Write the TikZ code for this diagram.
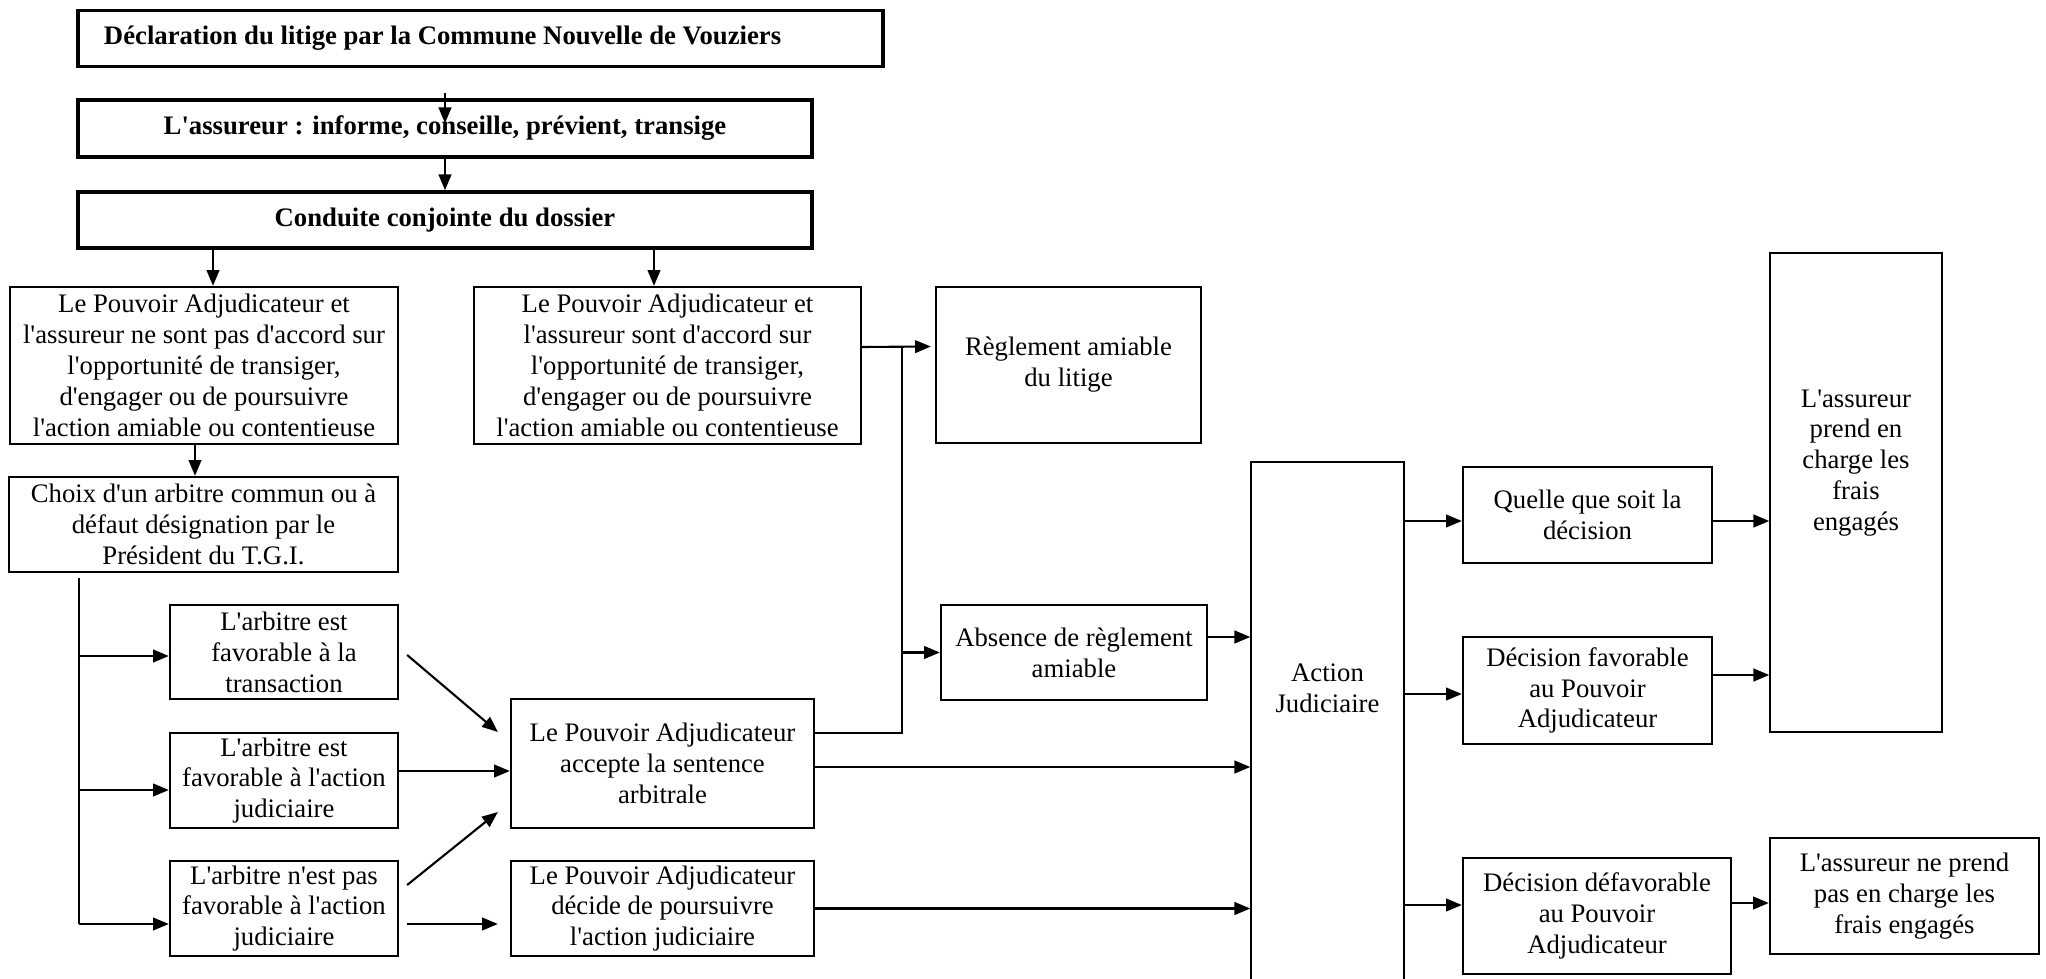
\documentclass[tikz,border=0pt]{standalone}
\usepackage{fontspec}
\setmainfont[Ligatures=TeXOff]{Liberation Serif}
\usetikzlibrary{arrows.meta}

\begin{document}
\begin{tikzpicture}[
    box/.style={draw, line width=0.65pt, align=center, inner sep=1pt, font=\fontsize{7.6}{8.8}\selectfont},
    topbox/.style={box, line width=1pt, font=\fontsize{7.6}{8.8}\selectfont\bfseries},
    thinbox/.style={box, line width=0.4pt},
    txt/.style={align=center, inner sep=0pt, font=\fontsize{7.6}{8.8}\selectfont},
    arr/.style={-{Triangle[length=4.5pt,width=3.6pt]}, line width=0.6pt},
    link/.style={line width=0.45pt}
  ]
    \useasboundingbox (0,0) rectangle (20.46,-9.79);
    \clip (0,0) rectangle (20.46,-9.79);

    \node[topbox, minimum width=8.05cm, minimum height=0.56cm, text width=7.53cm, align=flush left, inner xsep=0.26cm] (decl) at (4.805,-0.385) {D\'eclaration du litige par la Commune Nouvelle de Vouziers};
    \node[topbox, minimum width=7.34cm, minimum height=0.57cm] (assur) at (4.45,-1.285) {L'assureur : informe, conseille, pr\'evient, transige};
    \node[topbox, minimum width=7.34cm, minimum height=0.56cm] (conduite) at (4.45,-2.20) {Conduite conjointe du dossier};

    \node[box, minimum width=3.88cm, minimum height=1.57cm] (pasaccord) at (2.04,-3.655) {Le Pouvoir Adjudicateur et\\l'assureur ne sont pas d'accord sur\\l'opportunit\'e de transiger,\\d'engager ou de poursuivre\\l'action amiable ou contentieuse};
    \node[box, minimum width=3.87cm, minimum height=1.57cm] (accord) at (6.675,-3.655) {Le Pouvoir Adjudicateur et\\l'assureur sont d'accord sur\\l'opportunit\'e de transiger,\\d'engager ou de poursuivre\\l'action amiable ou contentieuse};
    \node[box, minimum width=2.65cm, minimum height=1.56cm] (reglement) at (10.685,-3.65) {R\`eglement amiable\\du litige};
    \node[box, minimum width=3.89cm, minimum height=0.95cm] (choix) at (2.035,-5.245) {Choix d'un arbitre commun ou \`a\\d\'efaut d\'esignation par le\\Pr\'esident du T.G.I.};

    \node[box, minimum width=2.28cm, minimum height=0.94cm] (arb1) at (2.84,-6.52) {L'arbitre est\\favorable \`a la\\transaction};
    \node[box, minimum width=2.28cm, minimum height=0.95cm] (arb2) at (2.84,-7.805) {L'arbitre est\\favorable \`a l'action\\judiciaire};
    \node[box, minimum width=2.28cm, minimum height=0.95cm] (arb3) at (2.84,-9.085) {L'arbitre n'est pas\\favorable \`a l'action\\judiciaire};
    \node[box, minimum width=3.03cm, minimum height=1.29cm] (accepte) at (6.625,-7.635) {Le Pouvoir Adjudicateur\\accepte la sentence\\arbitrale};
    \node[box, minimum width=3.03cm, minimum height=0.95cm] (decide) at (6.625,-9.085) {Le Pouvoir Adjudicateur\\d\'ecide de poursuivre\\l'action judiciaire};
    \node[box, minimum width=2.66cm, minimum height=0.95cm] (absence) at (10.74,-6.525) {Absence de r\`eglement\\amiable};

    \node[thinbox, minimum width=1.53cm, minimum height=5.38cm] (action) at (13.275,-7.31) {};
    \node[txt] (actiontxt) at (13.275,-6.88) {Action\\Judiciaire};
    \node[box, minimum width=2.49cm, minimum height=0.96cm] (quelle) at (15.875,-5.15) {Quelle que soit la\\d\'ecision};
    \node[box, minimum width=2.49cm, minimum height=1.07cm] (favor) at (15.875,-6.905) {D\'ecision favorable\\au Pouvoir\\Adjudicateur};
    \node[box, minimum width=2.68cm, minimum height=1.16cm] (defavor) at (15.97,-9.16) {D\'ecision d\'efavorable\\au Pouvoir\\Adjudicateur};
    \node[thinbox, minimum width=1.72cm, minimum height=4.79cm] (prend) at (18.56,-4.925) {};
    \node[txt] (prendtxt) at (18.56,-4.63) {L'assureur\\prend en\\charge les\\frais\\engag\'es};
    \node[box, minimum width=2.69cm, minimum height=1.16cm] (neprend) at (19.045,-8.96) {L'assureur ne prend\\pas en charge les\\frais engag\'es};

    \draw[arr] ([yshift=-0.25cm]decl.south -| assur.north) -- ([yshift=-0.25cm]assur.north);
    \draw[arr] (assur) -- (conduite);
    \draw[arr] ([xshift=0.09cm]pasaccord.north |- conduite.south) -- ([xshift=0.09cm]pasaccord.north);
    \draw[arr] ([xshift=-0.135cm]accord.north |- conduite.south) -- ([xshift=-0.135cm]accord.north);
    \draw[arr] ([xshift=-0.09cm]pasaccord.south) -- ([xshift=-0.09cm]pasaccord.south |- choix.north);

    \coordinate (bus) at (0.79,-5.78);
    \draw[line width=0.6pt] (bus) -- ([yshift=-0.155cm]bus |- arb3.west);
    \draw[arr] ([yshift=-0.04cm]bus |- arb1.west) -- ([yshift=-0.04cm]arb1.west);
    \draw[arr] ([yshift=-0.095cm]bus |- arb2.west) -- ([yshift=-0.095cm]arb2.west);
    \draw[arr] ([yshift=-0.155cm]bus |- arb3.west) -- ([yshift=-0.155cm]arb3.west);

    \draw[arr] ([shift={(0.08,-0.03)}]arb1.east) -- ([shift={(-0.12,0.315)}]accepte.west);
    \draw[arr] ([yshift=0.095cm]arb2.east) -- ([yshift=0.095cm]arb2.east -| accepte.west);
    \draw[arr] ([shift={(0.08,0.235)}]arb3.east) -- ([shift={(-0.12,-0.485)}]accepte.west);
    \draw[arr] ([shift={(0.08,-0.155)}]arb3.east) -- ([shift={(-0.12,-0.155)}]decide.west);

    \coordinate (jn) at (9.02,-3.47);
    \draw[arr] ([yshift=0.185cm]accord.east) -- ([shift={(-0.04,0.185)}]reglement.west);
    \draw[link] ([yshift=0.305cm]accepte.east) -| (jn);
    \draw[arr] (jn |- absence.west) -- (absence.west);
    \draw[arr] ([yshift=0.155cm]absence.east) -- ([yshift=0.155cm]absence.east -| action.west);
    \draw[arr] ([yshift=-0.035cm]accepte.east) -- ([yshift=-0.035cm]accepte.east -| action.west);
    \draw[arr] (decide.east) -- (decide.east -| action.west);

    \draw[arr] ([yshift=-0.06cm]quelle.west -| action.east) -- ([yshift=-0.06cm]quelle.west);
    \draw[arr] ([yshift=-0.035cm]favor.west -| action.east) -- ([yshift=-0.035cm]favor.west);
    \draw[arr] ([yshift=0.11cm]defavor.west -| action.east) -- ([yshift=0.11cm]defavor.west);
    \draw[arr] ([yshift=-0.06cm]quelle.east) -- ([yshift=-0.06cm]quelle.east -| prend.west);
    \draw[arr] ([yshift=0.155cm]favor.east) -- ([yshift=0.155cm]favor.east -| prend.west);
    \draw[arr] ([yshift=0.13cm]defavor.east) -- ([yshift=0.13cm]defavor.east -| neprend.west);
  \end{tikzpicture}
\end{document}
